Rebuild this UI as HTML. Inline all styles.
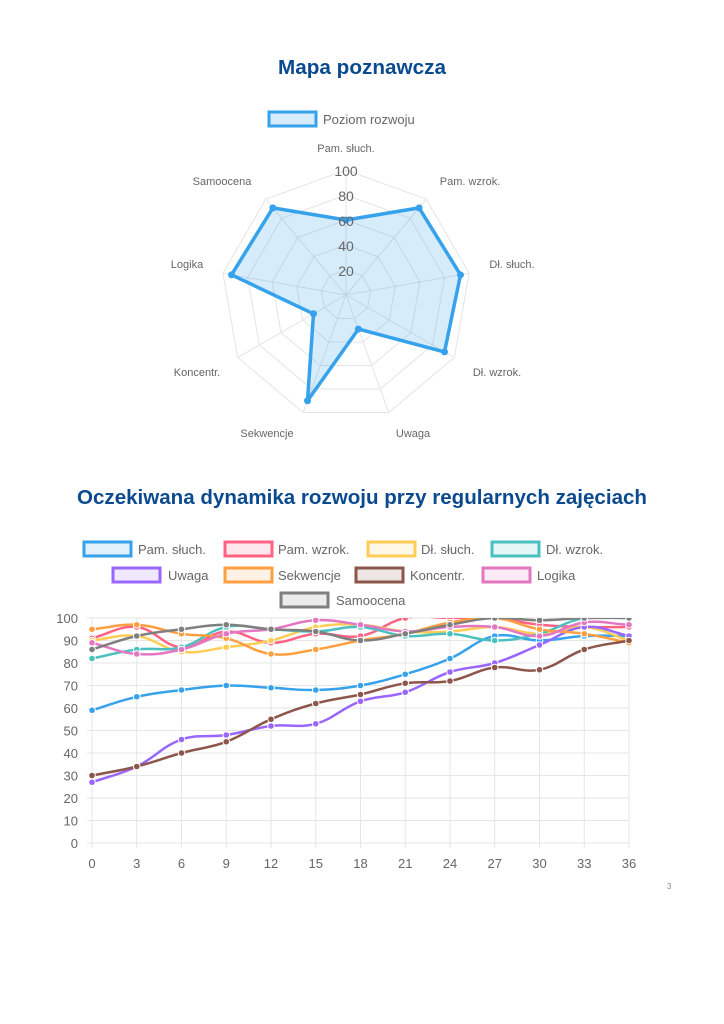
<!DOCTYPE html>
<html><head><meta charset="utf-8"><style>
html,body{margin:0;padding:0;background:#fff;width:724px;height:1024px;overflow:hidden}
svg{display:block;font-family:"Liberation Sans",sans-serif}
</style></head><body>
<svg id="s" width="724" height="1024" viewBox="0 0 724 1024">
<text x="362" y="74" text-anchor="middle" font-size="20" font-weight="bold" fill="#0b4a8f" textLength="168" lengthAdjust="spacingAndGlyphs">Mapa poznawcza</text>
<text x="362" y="504" text-anchor="middle" font-size="20" font-weight="bold" fill="#0b4a8f" textLength="570" lengthAdjust="spacingAndGlyphs">Oczekiwana dynamika rozwoju przy regularnych zajęciach</text>
<rect x="269" y="112" width="47" height="14" fill="rgba(54,162,235,0.2)" stroke="#36a2eb" stroke-width="3"/>
<text x="323" y="124" font-size="13" fill="#666">Poziom rozwoju</text>
<g id="radar"></g>
<g id="line"></g>
<text x="667" y="889" font-size="8" fill="#888">3</text>
</svg>
<script>
const NS="http://www.w3.org/2000/svg";
function el(p,t,a,txt){const e=document.createElementNS(NS,t);for(const k in a)e.setAttribute(k,a[k]);if(txt!==undefined)e.textContent=txt;p.appendChild(e);return e;}
// Radar
const R=document.getElementById('radar');const cx=346,cy=295,r100=125;
const labels=["Pam. słuch.","Pam. wzrok.","Dł. słuch.","Dł. wzrok.","Uwaga","Sekwencje","Koncentr.","Logika","Samoocena"];
const vals=[60,91,93,91,29,90,30,93,91];
function pt(i,v){const a=-Math.PI/2+i*2*Math.PI/9;return [cx+Math.cos(a)*r100*v/100,cy+Math.sin(a)*r100*v/100];}
for(let k=1;k<=5;k++){let d='';for(let i=0;i<9;i++){const p=pt(i,k*20);d+=(i?'L':'M')+p[0].toFixed(1)+','+p[1].toFixed(1);}el(R,'path',{d:d+'Z',fill:'none',stroke:'#e4e4e4','stroke-width':1});}
for(let i=0;i<9;i++){const p=pt(i,100);el(R,'line',{x1:cx,y1:cy,x2:p[0],y2:p[1],stroke:'#e4e4e4'});}
let d='';for(let i=0;i<9;i++){const p=pt(i,vals[i]);d+=(i?'L':'M')+p[0].toFixed(1)+','+p[1].toFixed(1);}
el(R,'path',{d:d+'Z',fill:'rgba(54,162,235,0.2)',stroke:'#36a2eb','stroke-width':3.5,'stroke-linejoin':'round'});
for(let i=0;i<9;i++){const p=pt(i,vals[i]);el(R,'circle',{cx:p[0],cy:p[1],r:3.5,fill:'#36a2eb'});}
[20,40,60,80,100].forEach(v=>el(R,'text',{x:cx,y:cy-v*1.25+6,'text-anchor':'middle','font-size':14,fill:'#666'},String(v)));
const lp=[[346,152,'middle'],[470,185,'middle'],[512,268,'middle'],[497,376,'middle'],[413,437,'middle'],[267,437,'middle'],[197,376,'middle'],[187,268,'middle'],[222,185,'middle']];
lp.forEach((p,i)=>el(R,'text',{x:p[0],y:p[1],'text-anchor':p[2],'font-size':11,fill:'#666'},labels[i]));
// Line chart
const L=document.getElementById('line');const x0=92,x1=629,y0=843,yt=618;
const X=i=>x0+(x1-x0)*i/12, Y=v=>y0-(y0-yt)*v/100;
for(let v=0;v<=100;v+=10){el(L,'line',{x1:x0-5,x2:x1,y1:Y(v),y2:Y(v),stroke:'#e6e6e6'});el(L,'text',{x:78,y:Y(v)+5,'text-anchor':'end','font-size':13,fill:'#666'},String(v));}
for(let i=0;i<=12;i++){el(L,'line',{x1:X(i),x2:X(i),y1:yt,y2:y0+5,stroke:'#e6e6e6'});el(L,'text',{x:X(i),y:868,'text-anchor':'middle','font-size':13,fill:'#666'},String(i*3));}
const S=[
["Pam. słuch.","#36a2eb",[59,65,68,70,69,68,70,75,82,92,90,92,92]],
["Pam. wzrok.","#ff6384",[91,96,87,94,89,93,92,100,100,100,97,96,96]],
["Dł. słuch.","#ffcd56",[90,92,85,87,90,96,97,94,94,96,93,96,90]],
["Dł. wzrok.","#4bc0c0",[82,86,87,96,95,94,96,92,93,90,93,100,100]],
["Uwaga","#9966ff",[27,34,46,48,52,53,63,67,76,80,88,96,92]],
["Sekwencje","#ff9f40",[95,97,93,91,84,86,90,93,98,100,95,93,89]],
["Koncentr.","#8c564b",[30,34,40,45,55,62,66,71,72,78,77,86,90]],
["Logika","#e377c2",[89,84,86,93,95,99,97,94,96,96,92,98,97]],
["Samoocena","#7f7f7f",[86,92,95,97,95,94,90,93,97,100,99,100,100]]];
const defs=el(document.getElementById('s'),'defs',{});const cp=el(defs,'clipPath',{id:'c'});el(cp,'rect',{x:x0-6,y:yt,width:x1-x0+12,height:y0-yt+6});
const G=el(L,'g',{'clip-path':'url(#c)'});
function spline(P){const t=0.4;let d='M'+P[0][0]+','+P[0][1];const C=[];
for(let i=0;i<P.length;i++){const p0=P[Math.max(0,i-1)],p1=P[i],p2=P[Math.min(P.length-1,i+1)];
const d01=Math.hypot(p1[0]-p0[0],p1[1]-p0[1]),d12=Math.hypot(p2[0]-p1[0],p2[1]-p1[1]);const s=d01+d12||1;
const fa=t*d01/s,fb=t*d12/s;C.push([[p1[0]-fa*(p2[0]-p0[0]),p1[1]-fa*(p2[1]-p0[1])],[p1[0]+fb*(p2[0]-p0[0]),p1[1]+fb*(p2[1]-p0[1])]]);}
for(let i=1;i<P.length;i++){const a=C[i-1][1],b=C[i][0];d+=`C${a[0].toFixed(1)},${a[1].toFixed(1)} ${b[0].toFixed(1)},${b[1].toFixed(1)} ${P[i][0].toFixed(1)},${P[i][1].toFixed(1)}`;}return d;}
S.forEach(s=>{const P=s[2].map((v,i)=>[X(i),Y(v)]);el(G,'path',{d:spline(P),fill:'none',stroke:s[1],'stroke-width':2.5});
P.forEach(p=>el(G,'circle',{cx:p[0],cy:p[1],r:3.3,fill:s[1],stroke:'#fff','stroke-width':1}));});
// Legend
const leg=[[84,138,549,0],[225,278,549,1],[368,421,549,2],[492,546,549,3],[113,168,575,4],[225,278,575,5],[356,410,575,6],[483,537,575,7],[281,336,600,8]];
leg.forEach(g=>{const s=S[g[3]];el(L,'rect',{x:g[0],y:g[2]-7,width:47,height:14,fill:s[1],'fill-opacity':0.15,stroke:s[1],'stroke-width':3});
el(L,'text',{x:g[1],y:g[2]+5,'font-size':13,fill:'#666'},s[0]);});
</script>
</body></html>
